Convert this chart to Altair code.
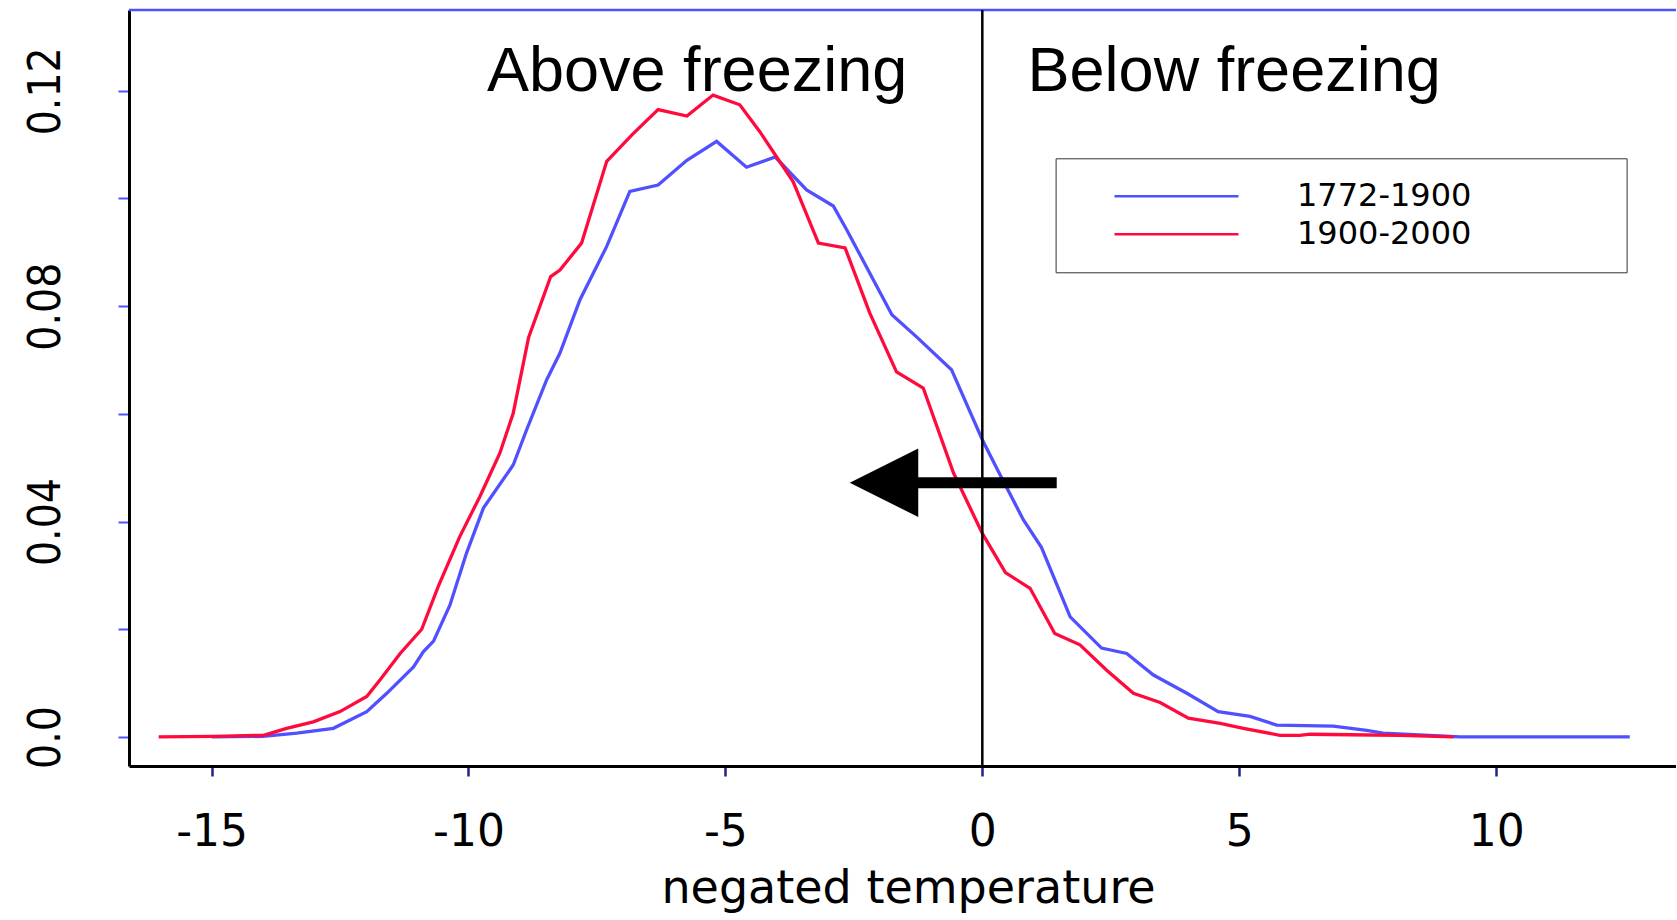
import altair as alt
import pandas as pd

# ---- data ----
series_names = ["1772-1900", "1900-2000"]
series_colors = ["#5050ff", "#ff0a3c"]

temp_1772_1900 = [-15.0, -14.0, -13.34, -12.63, -11.98, -11.59, -11.07, -10.88, -10.68, -10.36,
                  -10.04, -9.71, -9.13, -8.87, -8.48, -8.22, -7.83, -7.31, -6.86, -6.31,
                  -5.75, -5.17, -4.59, -4.03, -3.42, -2.90, -2.64, -1.76, -1.28, -0.60,
                  0.0, 0.34, 0.80, 1.15, 1.71, 2.32, 2.81, 3.33, 3.98, 4.59,
                  5.21, 5.73, 6.83, 7.48, 7.80, 9.30, 12.6]
dens_1772_1900 = [0.0, 0.0001, 0.0007, 0.0016, 0.0047, 0.0081, 0.0130, 0.0158, 0.0178, 0.0245,
                  0.0341, 0.0425, 0.0505, 0.0570, 0.0663, 0.0713, 0.0812, 0.0911, 0.1013, 0.1025,
                  0.1071, 0.1106, 0.1058, 0.1077, 0.1016, 0.0986, 0.0942, 0.0784, 0.0743, 0.0682,
                  0.0552, 0.0488, 0.0403, 0.0352, 0.0223, 0.0165, 0.0155, 0.0115, 0.0081, 0.0047,
                  0.0038, 0.0022, 0.0020, 0.0012, 0.0007, 0.0, 0.0]

temp_1900_2000 = [-16.03, -14.96, -13.99, -13.54, -13.02, -12.50, -11.98, -11.72, -11.33, -10.91,
                  -10.59, -10.17, -9.78, -9.39, -9.13, -8.83, -8.40, -8.22, -7.80, -7.31,
                  -6.80, -6.31, -5.75, -5.24, -4.72, -4.33, -3.68, -3.19, -2.67, -2.19,
                  -1.67, -1.15, -0.56, 0.0, 0.45, 0.93, 1.41, 1.90, 2.42, 2.94,
                  3.46, 4.01, 4.63, 5.08, 5.79, 6.18, 6.38, 7.16, 8.13, 9.17]
dens_1900_2000 = [0.0, 0.0001, 0.0003, 0.0016, 0.0028, 0.0047, 0.0075, 0.0106, 0.0155, 0.0200,
                  0.0279, 0.0372, 0.0446, 0.0527, 0.0601, 0.0742, 0.0855, 0.0867, 0.0917, 0.1069,
                  0.1120, 0.1165, 0.1153, 0.1192, 0.1174, 0.1124, 0.1031, 0.0917, 0.0908, 0.0787,
                  0.0678, 0.0648, 0.0490, 0.0378, 0.0305, 0.0276, 0.0192, 0.0171, 0.0124, 0.0081,
                  0.0064, 0.0035, 0.0025, 0.0016, 0.0003, 0.0003, 0.0005, 0.0004, 0.0003, 0.0]

x_ticks = [-15, -10, -5, 0, 5, 10]
y_ticks = [0.0, 0.02, 0.04, 0.06, 0.08, 0.10, 0.12]
x_domain = [-16.607, 13.50]
y_domain = [-0.0054, 0.1350]

region_labels = ["Above freezing", "Below freezing"]
region_label_x = [-9.64, 0.88]
region_label_y = [0.12, 0.12]
freezing_point = [0]

arrow_y = [0.0472]
arrow_shaft_x = [-1.40]
arrow_shaft_x2 = [1.448]
arrow_head_x = [-1.913]

# ---- layout ----
W, H = 1547, 756
BLUE = "#5050ff"

curves = pd.concat([
    pd.DataFrame({"temp": temp_1772_1900, "density": dens_1772_1900, "period": series_names[0]}),
    pd.DataFrame({"temp": temp_1900_2000, "density": dens_1900_2000, "period": series_names[1]}),
], ignore_index=True)

xs = alt.Scale(domain=x_domain, nice=False, zero=False)
ys = alt.Scale(domain=y_domain, nice=False, zero=False)

x_axis = alt.Axis(
    values=x_ticks, title="negated temperature", labelExpr="datum.value + ''",
    labelFont="DejaVu Sans", labelFontSize=44, labelColor="black", labelPadding=34,
    labelFlush=False, tickSize=10, tickWidth=2.5, tickColor="#222288",
    domainColor="black", domainWidth=3, grid=False,
    titleFont="DejaVu Sans", titleFontSize=46, titleFontWeight="normal", titleColor="black",
    titleBaseline="alphabetic", titleAlign="center", titleX=779, titleY=136)

y_axis = alt.Axis(
    values=y_ticks, title="",
    labelExpr="datum.value == 0 ? '0.0' : (round(datum.value*100) % 4 == 0 ? format(datum.value, '.2f') : '')",
    labelAngle=270, labelAlign="center", labelBaseline="alphabetic",
    labelFont="'Liberation Sans Narrow', 'DejaVu Sans Condensed', sans-serif",
    labelFontSize=44, labelColor="black", labelPadding=59, labelFlush=False,
    tickSize=11, tickWidth=2, tickColor=BLUE, domainColor="black", domainWidth=3, grid=False)

# legend symbol: a stroke drawn away from the symbol centre, plus an invisible
# zero-length sub-path that widens the legend frame to the reference's size
legend_symbol = "M2.09,0L14.49,0M50.6,0L50.6,0"

lines = alt.Chart(curves).mark_line(strokeWidth=3.3).encode(
    x=alt.X("temp:Q", scale=xs, axis=x_axis),
    y=alt.Y("density:Q", scale=ys, axis=y_axis),
    color=alt.Color("period:N", scale=alt.Scale(domain=series_names, range=series_colors),
                    legend=alt.Legend(
                        title=None, orient="none", legendX=926.6, legendY=148.3,
                        strokeColor="#333333", padding=22, fillColor="white",
                        symbolType=legend_symbol, symbolSize=400, symbolStrokeWidth=2.5,
                        labelFont="DejaVu Sans", labelFontSize=32, labelColor="black",
                        labelOffset=187.4, labelLimit=500, rowPadding=6)),
)

top_border = alt.Chart(pd.DataFrame({"k": [0]})).mark_rule(color=BLUE, strokeWidth=2.5).encode(
    x=alt.value(0), x2=alt.value(W), y=alt.value(0))

zero_line = alt.Chart(pd.DataFrame({"temp": freezing_point})).mark_rule(
    color="black", strokeWidth=2.5).encode(x=alt.X("temp:Q", scale=xs, axis=x_axis))

texts = alt.Chart(pd.DataFrame({"temp": region_label_x, "density": region_label_y,
                                "label": region_labels})).mark_text(
    font="Liberation Sans", fontSize=63, align="left", baseline="alphabetic", color="black").encode(
    x=alt.X("temp:Q", scale=xs, axis=x_axis), y=alt.Y("density:Q", scale=ys, axis=y_axis),
    text="label:N")

shaft = alt.Chart(pd.DataFrame({"temp": arrow_shaft_x, "temp2": arrow_shaft_x2,
                                "density": arrow_y})).mark_rule(
    color="black", strokeWidth=11).encode(
    x=alt.X("temp:Q", scale=xs, axis=x_axis), x2="temp2:Q",
    y=alt.Y("density:Q", scale=ys, axis=y_axis))

head = alt.Chart(pd.DataFrame({"temp": arrow_head_x, "density": arrow_y})).mark_point(
    shape="M-1,0L1,-1L1,1Z", filled=True, size=4692, color="black", opacity=1, strokeWidth=0).encode(
    x=alt.X("temp:Q", scale=xs, axis=x_axis), y=alt.Y("density:Q", scale=ys, axis=y_axis))

chart = alt.layer(top_border, lines, zero_line, texts, shaft, head).properties(
    width=W, height=H,
    autosize=alt.AutoSizeParams(type="none"),
    padding={"left": 129, "top": 10, "right": 0, "bottom": 148},
).configure_view(strokeWidth=0)

chart.save("out.html", embed_options={"renderer": "svg", "actions": False})
